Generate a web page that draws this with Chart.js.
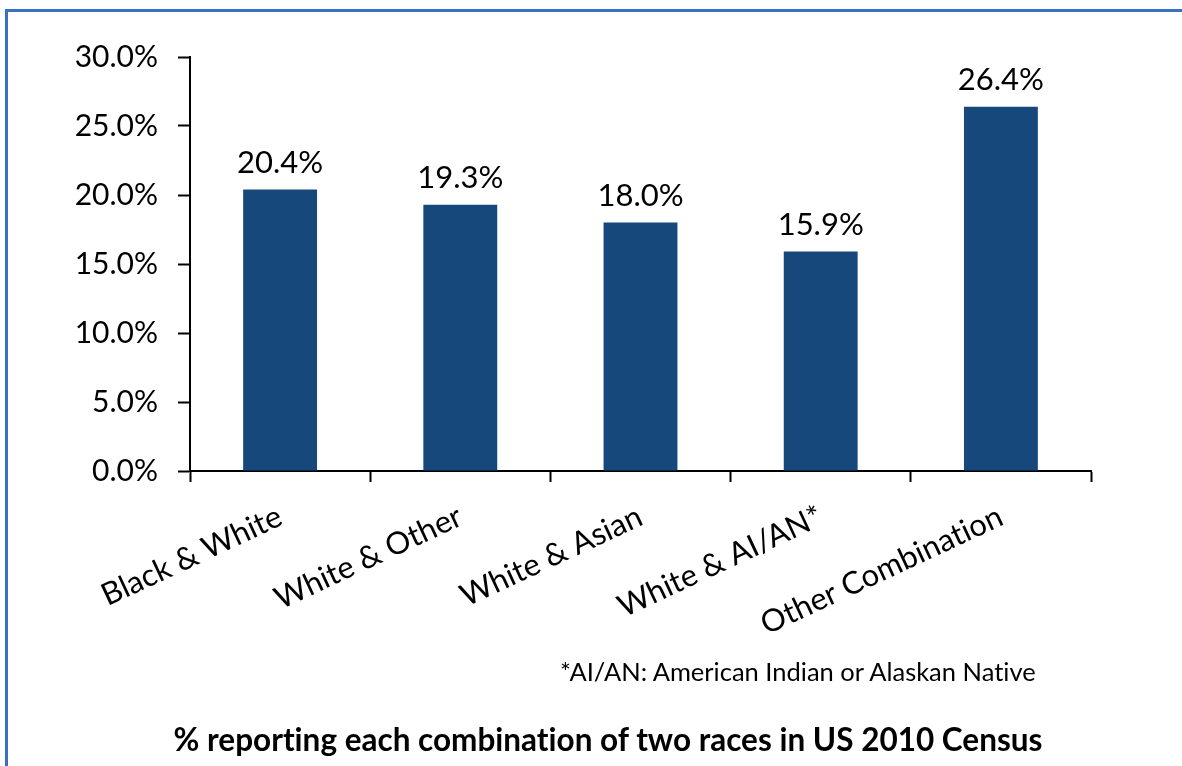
<!DOCTYPE html>
<html>
<head>
<meta charset="utf-8">
<script src="https://cdn.jsdelivr.net/npm/chart.js@4/dist/chart.umd.min.js"></script>
<style>
  html, body { margin: 0; padding: 0; background: #fff; }
  body { width: 1182px; height: 766px; position: relative; overflow: hidden; font-family: Lato, "Open Sans", sans-serif; font-variant-ligatures: none; }
  #frame { position: absolute; left: 5px; top: 9px; width: 1200px; height: 800px; border-left: 3px solid #3b70c0; border-top: 3px solid #3b70c0; }
  #wrap { position: absolute; left: 0; top: 0; width: 1182px; height: 766px; }
  #note { position: absolute; left: 560px; top: 656px; font-size: 25.5px; color: #000; white-space: nowrap; }
  #title { position: absolute; left: 0; width: 1216px; top: 720px; text-align: center; font-size: 31.5px; font-weight: bold; color: #000; white-space: nowrap; }
</style>
</head>
<body>
<div id="frame"></div>
<div id="wrap"><canvas id="chart" width="1182" height="766"></canvas></div>
<div id="note">*AI/AN: American Indian or Alaskan Native</div>
<div id="title">% reporting each combination of two races in US 2010 Census</div>
<script>
const categories = ['Black & White', 'White & Other', 'White & Asian', 'White & AI/AN*', 'Other Combination'];
const shares = [20.4, 19.3, 18.0, 15.9, 26.4];
const yTicks = [0, 5, 10, 15, 20, 25, 30];

const barColor = '#17487b';
const fontFamily = 'Lato, "Open Sans", sans-serif';

// draws the value on top of each bar
const valueLabels = {
  id: 'valueLabels',
  afterDatasetsDraw(chart) {
    const ctx = chart.ctx;
    const meta = chart.getDatasetMeta(0);
    ctx.save();
    ctx.font = '31px ' + fontFamily;
    ctx.fillStyle = '#000';
    ctx.textAlign = 'center';
    ctx.textBaseline = 'bottom';
    meta.data.forEach((bar, i) => {
      ctx.fillText(shares[i].toFixed(1) + '%', bar.x, bar.y - 11);
    });
    ctx.restore();
  }
};

new Chart(document.getElementById('chart'), {
  type: 'bar',
  data: {
    labels: categories,
    datasets: [{
      data: shares,
      backgroundColor: barColor,
      borderWidth: 0,
      barPercentage: 0.82,
      categoryPercentage: 0.5
    }]
  },
  options: {
    responsive: false,
    animation: false,
    layout: { padding: { top: 57, right: 91, left: 0, bottom: 0 } },
    plugins: {
      legend: { display: false },
      tooltip: { enabled: false }
    },
    scales: {
      x: {
        afterFit: s => { s.height = 295; },
        grid: { drawOnChartArea: false, drawTicks: true, tickLength: 11, tickColor: '#000', tickWidth: 2, offset: true },
        border: { display: true, color: '#000', width: 2 },
        ticks: {
          color: '#000',
          font: { family: fontFamily, size: 31 },
          minRotation: 25,
          maxRotation: 25,
          autoSkip: false,
          padding: 16
        }
      },
      y: {
        min: 0,
        max: 30,
        afterFit: s => { s.width = 190; },
        afterBuildTicks: s => { s.ticks = yTicks.map(v => ({ value: v })); },
        grid: { drawOnChartArea: false, drawTicks: true, tickLength: 12, tickColor: '#000', tickWidth: 2 },
        border: { display: true, color: '#000', width: 2 },
        ticks: {
          color: '#000',
          font: { family: fontFamily, size: 30 },
          padding: 20,
          callback: v => v.toFixed(1) + '%'
        }
      }
    }
  },
  plugins: [valueLabels]
});
</script>
</body>
</html>
